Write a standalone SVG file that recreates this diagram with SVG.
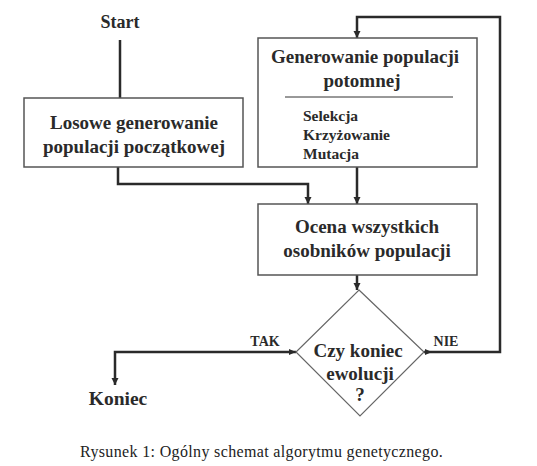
<svg xmlns="http://www.w3.org/2000/svg" width="537" height="466" viewBox="0 0 537 466">
<style>
.t{font-family:"Liberation Serif","Times New Roman","DejaVu Serif",serif;font-weight:bold;fill:#2a2a2a;font-size:19px;text-anchor:middle}
.s{font-family:"Liberation Serif","Times New Roman","DejaVu Serif",serif;font-weight:bold;fill:#2a2a2a;font-size:15.5px}
.l{font-family:"Liberation Serif","Times New Roman","DejaVu Serif",serif;font-weight:bold;fill:#2a2a2a;font-size:14px;text-anchor:middle}
.box{fill:#fff;stroke:#555;stroke-width:1.5}
.c{fill:none;stroke:#2a2a2a;stroke-width:2.5}
.cap{font-family:"Liberation Serif","Times New Roman","DejaVu Serif",serif;fill:#222;font-size:16px;letter-spacing:0.35px}
</style>
<defs>
<marker id="ah" viewBox="0 0 10 10" refX="10" refY="5" markerWidth="3" markerHeight="3" orient="auto" markerUnits="strokeWidth">
<path d="M0,0 L10,5 L0,10 z" fill="#2a2a2a"/>
</marker>
</defs>
<rect width="537" height="466" fill="#fff"/>
<g id="connectors">
<path class="c" d="M120,40 V98"/>
<path class="c" d="M118,167 V184 H308 V204" marker-end="url(#ah)"/>
<path class="c" d="M357,167 V204" marker-end="url(#ah)"/>
<path class="c" d="M357,275 V290" marker-end="url(#ah)"/>
<path class="c" d="M424,352 H500 V17 H357 V38" marker-end="url(#ah)"/>
<path class="c" d="M296,352 H115 V385" marker-end="url(#ah)"/>
<path d="M296,352 l-7,-3 v6 z" fill="#2a2a2a"/>
<path d="M432,352 l-7,-3 v6 z" fill="#2a2a2a"/>
</g>
<g id="start"><text class="t" x="120" y="28" style="font-size:18px">Start</text></g>
<g id="losowe">
<rect class="box" x="24" y="98" width="219" height="69"/>
<text class="t" x="134" y="129">Losowe generowanie</text>
<text class="t" x="134" y="153">populacji początkowej</text>
</g>
<g id="generowanie">
<rect class="box" x="258" y="38" width="219" height="129"/>
<text class="t" x="365" y="63">Generowanie populacji</text>
<text class="t" x="362" y="87">potomnej</text>
<line x1="285" y1="97" x2="453" y2="97" stroke="#333" stroke-width="1"/>
<text class="s" x="303" y="121">Selekcja</text>
<text class="s" x="303" y="140">Krzyżowanie</text>
<text class="s" x="303" y="159">Mutacja</text>
</g>
<g id="ocena">
<rect class="box" x="258" y="204" width="219" height="71"/>
<text class="t" x="367" y="233">Ocena wszystkich</text>
<text class="t" x="367" y="257">osobników populacji</text>
</g>
<g id="decyzja">
<polygon points="359,290 424,352 360,416 296,352" fill="#fff" stroke="#666" stroke-width="1.2"/>
<text class="t" x="358" y="357">Czy koniec</text>
<text class="t" x="360" y="380">ewolucji</text>
<text class="t" x="360" y="401">?</text>
</g>
<g id="koniec"><text class="t" x="118" y="405" style="font-size:19.5px">Koniec</text></g>
<g id="labels">
<text class="l" x="265" y="346">TAK</text>
<text class="l" x="446" y="346">NIE</text>
</g>
<text class="cap" x="80" y="457">Rysunek 1: Ogólny schemat algorytmu genetycznego.</text>
</svg>
